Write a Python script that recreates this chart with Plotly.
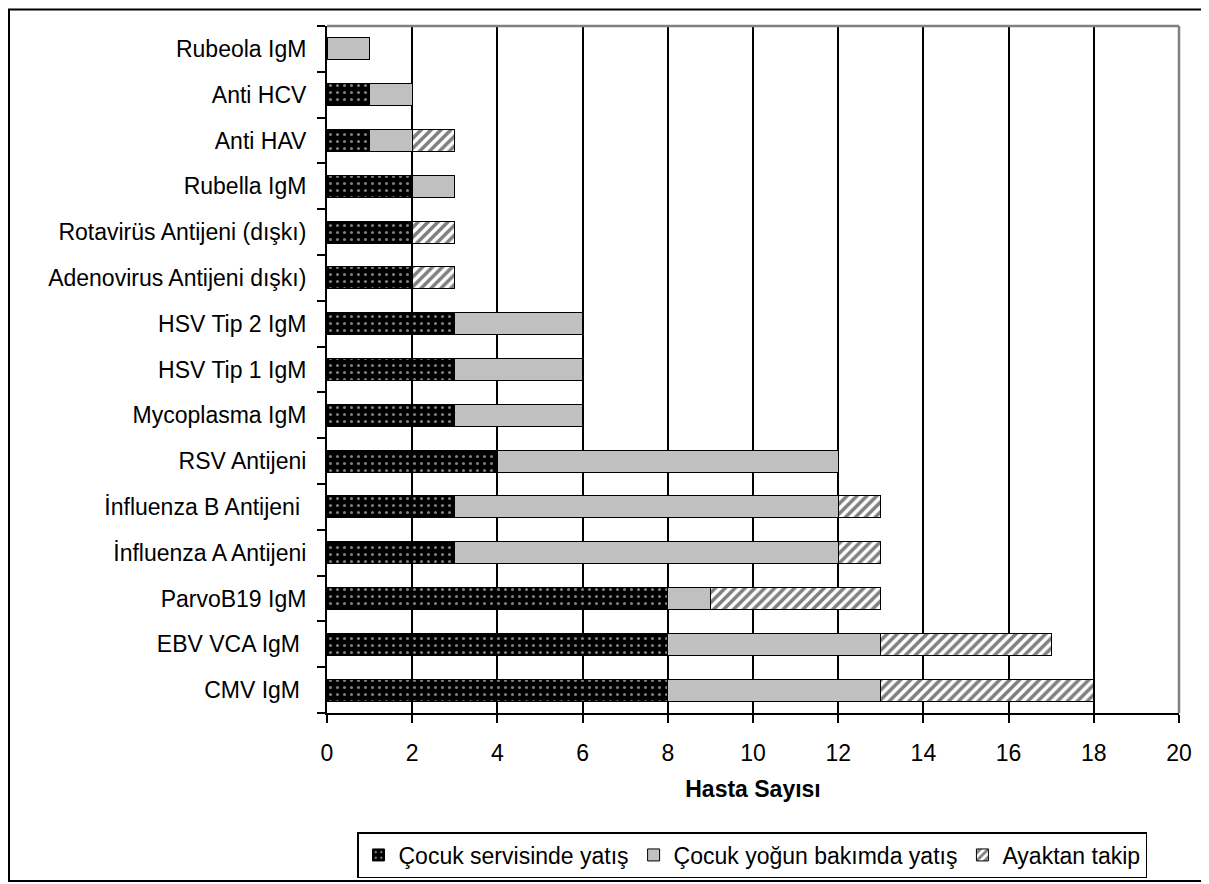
import plotly.graph_objects as go

categories = ["CMV IgM ", "EBV VCA IgM ", "ParvoB19 IgM", "İnfluenza A Antijeni", "İnfluenza B Antijeni ",
              "RSV Antijeni", "Mycoplasma IgM", "HSV Tip 1 IgM", "HSV Tip 2 IgM",
              "Adenovirus Antijeni dışkı)", "Rotavirüs Antijeni (dışkı)", "Rubella IgM",
              "Anti HAV", "Anti HCV", "Rubeola IgM"]
servis = [8, 8, 8, 3, 3, 4, 3, 3, 3, 2, 2, 2, 1, 1, 0]
yogun = [5, 5, 1, 9, 9, 8, 3, 3, 3, 0, 0, 1, 1, 1, 1]
ayaktan = [5, 4, 4, 1, 1, 0, 0, 0, 0, 1, 1, 0, 1, 0, 0]
series_names = ["Çocuk servisinde yatış", "Çocuk yoğun bakımda yatış", "Ayaktan takip"]
x_ticks = list(range(0, 21, 2))

FONT = "Liberation Sans, Arial, sans-serif"
FS = 23
fig = go.Figure()
fig.add_trace(go.Bar(
    y=categories, x=servis, orientation="h", name=series_names[0],
    marker=dict(color="black", line=dict(color="black", width=1),
                pattern=dict(shape=".", fgcolor="white", bgcolor="black", size=7, solidity=0.15))))
fig.add_trace(go.Bar(
    y=categories, x=yogun, orientation="h", name=series_names[1],
    marker=dict(color="#c0c0c0", line=dict(color="black", width=1))))
fig.add_trace(go.Bar(
    y=categories, x=ayaktan, orientation="h", name=series_names[2],
    marker=dict(color="white", line=dict(color="black", width=1),
                pattern=dict(shape="/", fgcolor="black", bgcolor="white", size=7, solidity=0.5))))

# page body has an 8px margin; compensate so the picture lines up
OFF = 8
W, H = 1209 - OFF, 884 - OFF
L, R, T, B = 327 - OFF, 1179 - OFF, 26 - OFF, 713 - OFF
def px(x): return (x - OFF - L) / (R - L)
def py(y): return (B - (y - OFF)) / (B - T)

fig.update_layout(
    barmode="stack", bargap=0.52,
    width=W, height=H,
    margin=dict(l=L, r=W - R, t=T, b=H - B, pad=0, autoexpand=False),
    paper_bgcolor="white", plot_bgcolor="white",
    font=dict(family=FONT, size=FS, color="black"),
    showlegend=True,
    legend=dict(orientation="h", x=px(752), xanchor="center", y=py(832), yanchor="top",
                bordercolor="black", borderwidth=1.5, font=dict(size=FS),
                itemwidth=30, tracegroupgap=0, traceorder="normal"),
    xaxis=dict(range=[0, 20], tickvals=x_ticks, showgrid=True, gridcolor="black", gridwidth=1.5,
               zeroline=False, showline=True, linecolor="black", linewidth=2,
               ticks="outside", ticklen=8, tickwidth=2, tickcolor="black",
               ticklabelstandoff=10, automargin=False,
               title=dict(text="<b>Hasta Sayısı</b>", font=dict(size=FS), standoff=16),
               fixedrange=True),
    yaxis=dict(type="category", categoryorder="array", categoryarray=categories,
               showgrid=False, showline=True, linecolor="black", linewidth=2,
               ticks="outside", ticklen=8, tickwidth=2, tickcolor="black", automargin=False,
               tickson="boundaries", ticklabelstandoff=14, fixedrange=True),
    shapes=[
        dict(type="line", xref="paper", yref="paper", x0=0, x1=1, y0=1, y1=1,
             line=dict(color="#808080", width=2.5), layer="above"),
        dict(type="line", xref="paper", yref="paper", x0=1, x1=1, y0=0, y1=1,
             line=dict(color="#808080", width=2.5), layer="above"),
        dict(type="rect", xref="paper", yref="paper", x0=px(9), x1=px(1215), y0=py(881), y1=py(9.5),
             line=dict(color="black", width=2), fillcolor="rgba(0,0,0,0)", layer="below"),
    ],
)
fig.write_html("out.html")
